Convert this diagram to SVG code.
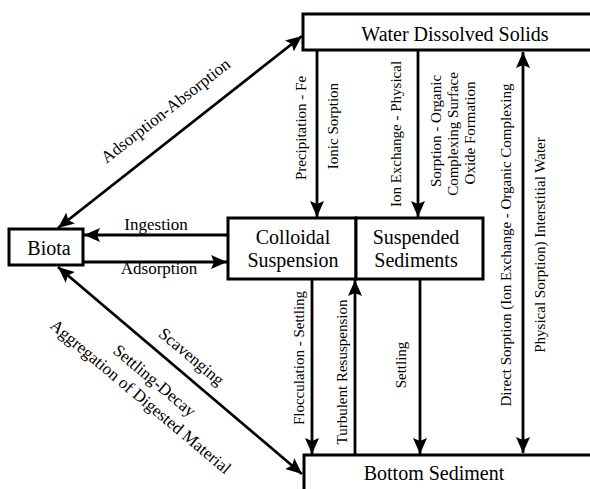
<svg xmlns="http://www.w3.org/2000/svg" width="590" height="489" viewBox="0 0 590 489">
<style>
.box{fill:#fff;stroke:#000;stroke-width:3}
text{font-family:'Liberation Serif','Times New Roman',serif;fill:#000;text-anchor:middle}
.node{font-size:20px}
.lbl{font-size:15px}
.dg{font-size:17px}
.ln{stroke:#000;stroke-width:2.8;fill:none}
</style>
<defs>
<marker id="ah" markerUnits="userSpaceOnUse" markerWidth="17" markerHeight="14" refX="16" refY="7" orient="auto-start-reverse" viewBox="0 0 17 14">
<path d="M0,0 L16,7 L0,14 L3,7 Z" fill="#000"/>
</marker>
</defs>
<rect width="590" height="489" fill="#fff"/>
<g id="connectors">
<line class="ln" x1="317" y1="51" x2="317" y2="217" marker-end="url(#ah)"/>
<line class="ln" x1="418" y1="51" x2="418" y2="217" marker-end="url(#ah)"/>
<line class="ln" x1="523" y1="52" x2="523" y2="453" marker-start="url(#ah)" marker-end="url(#ah)"/>
<line class="ln" x1="312" y1="280" x2="312" y2="454" marker-end="url(#ah)"/>
<line class="ln" x1="355" y1="454" x2="355" y2="280" marker-end="url(#ah)"/>
<line class="ln" x1="420" y1="280" x2="420" y2="454" marker-end="url(#ah)"/>
<line class="ln" x1="228" y1="235" x2="84" y2="235" marker-end="url(#ah)"/>
<line class="ln" x1="84" y1="262" x2="227" y2="262" marker-end="url(#ah)"/>
<line class="ln" x1="58" y1="228" x2="302" y2="36" marker-start="url(#ah)" marker-end="url(#ah)"/>
<line class="ln" x1="58" y1="267" x2="302" y2="474" marker-start="url(#ah)" marker-end="url(#ah)"/>
</g>
<g id="water">
<rect class="box" x="303" y="14" width="300" height="36"/>
<text class="node" x="455" y="41">Water Dissolved Solids</text>
</g>
<g id="biota">
<rect class="box" x="9" y="229" width="74" height="36"/>
<text class="node" x="49" y="255">Biota</text>
</g>
<g id="colloidal">
<rect class="box" x="228" y="218" width="128" height="61"/>
<text class="node" x="293" y="244">Colloidal</text>
<text class="node" x="293" y="267">Suspension</text>
</g>
<g id="suspended">
<rect class="box" x="356" y="218" width="127" height="61"/>
<text class="node" x="416" y="244">Suspended</text>
<text class="node" x="416" y="267">Sediments</text>
</g>
<g id="bottom">
<rect class="box" x="304" y="455" width="300" height="40"/>
<text class="node" x="434" y="480">Bottom Sediment</text>
</g>
<g id="labels">
<text class="dg" x="156" y="230">Ingestion</text>
<text class="dg" x="159" y="274">Adsorption</text>
<text class="lbl" transform="translate(306,128) rotate(-90)">Precipitation - Fe</text>
<text class="lbl" transform="translate(338,126) rotate(-90)">Ionic Sorption</text>
<text class="lbl" transform="translate(401,134) rotate(-90)">Ion Exchange - Physical</text>
<text class="lbl" transform="translate(441,131) rotate(-90)">Sorption - Organic</text>
<text class="lbl" transform="translate(458,134) rotate(-90)">Complexing Surface</text>
<text class="lbl" transform="translate(475,133) rotate(-90)">Oxide Formation</text>
<text class="lbl" transform="translate(511,245) rotate(-90)">Direct Sorption (Ion Exchange - Organic Complexing</text>
<text class="lbl" transform="translate(545,245) rotate(-90)">Physical Sorption) Interstitial Water</text>
<text class="lbl" transform="translate(304,358) rotate(-90)">Flocculation - Settling</text>
<text class="lbl" transform="translate(347,372) rotate(-90)">Turbulent Resuspension</text>
<text class="lbl" transform="translate(406,365) rotate(-90)">Settling</text>
<text class="dg" transform="translate(169,115) rotate(-38)">Adsorption-Absorption</text>
<text class="dg" transform="translate(188,361) rotate(40)">Scavenging</text>
<text class="dg" transform="translate(151,385) rotate(40)">Settling-Decay</text>
<text class="dg" transform="translate(137,401) rotate(40)">Aggregation of Digested Material</text>
</g>
</svg>
